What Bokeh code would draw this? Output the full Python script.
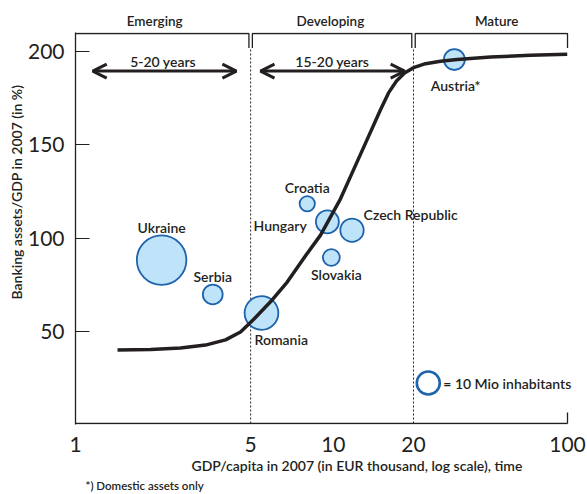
import math
from bokeh.plotting import figure
from bokeh.models import (Range1d, FixedTicker, Label, Arrow, OpenHead, ColumnDataSource,
                          LinearAxis, Title)
from bokeh.core.properties import value
from bokeh.embed import file_html
from bokeh.resources import INLINE

# ---------------- data ----------------
# x axis: schematic GDP/capita position (0..100), labelled with GDP values
x_tick_pos = [0, 35.6, 52.4, 68.7, 100]
x_tick_labels = ["1", "5", "10", "20", "100"]
y_ticks = [50, 100, 150, 200]

stage_names = ["Emerging", "Developing", "Mature"]
stage_bounds = [0, 35.6, 68.7, 100]          # positions of 1, 5, 20, 100
stage_label_x = [16.1, 51.8, 85.6]

span_texts = ["5-20 years", "15-20 years"]
span_start = [3.5, 37.6]
span_end = [32.7, 66.9]
span_text_x = [17.8, 52.2]

countries = ["Ukraine", "Serbia", "Romania", "Croatia", "Hungary",
             "Czech Republic", "Slovakia", "Austria*"]
gdp_pos = [17.5, 27.9, 37.8, 47.1, 51.2, 56.2, 52.0, 77.0]
bank_assets = [88.2, 69.8, 59.9, 118.4, 108.7, 104.2, 89.6, 195.6]
population = [46.4, 7.4, 21.5, 4.4, 10.0, 10.3, 5.4, 8.3]   # Mio inhabitants

curve_x = [8.54, 15.24, 21.34, 26.42, 30.49, 33.54, 36.18, 39.63, 43.03, 46.40, 49.80,
           53.86, 56.57, 59.29, 61.99, 63.62, 65.24, 66.87, 68.70, 71.14, 74.19, 77.58,
           84.35, 92.48, 99.94]
curve_y = [40.09, 40.36, 41.10, 42.69, 45.50, 49.74, 56.36, 65.90, 76.47, 89.23, 101.58,
           121.03, 136.93, 152.83, 168.73, 177.74, 184.10, 188.34, 191.25, 193.37, 194.70,
           195.65, 196.98, 197.88, 198.41]

legend_pop = 10
legend_pos = (71.7, 22.4)

# ---------------- style ----------------
FONT = "Lato"
FONT_M = "Lato Semibold"
INK = "#231f20"
FILL = "#bfe3f8"
EDGE = "#1e64ac"
REF_SIZE = 23  # px diameter for 10 Mio

label_dx = [0, 0, -7, 0, -20.7, 11.6, 5, 1.3]
label_dy = [-33, -18, 26.5, -16, 3.4, -16, 17.4, 25.7]
label_align = ["center", "center", "left", "center", "right", "left", "center", "center"]

FRAME_H = 396
p = figure(width=587, height=494, output_backend="svg", toolbar_location=None,
           x_range=Range1d(0, 102.64), y_range=Range1d(0.18, 210.07),
           min_border_left=75, min_border_right=7, min_border_top=32, min_border_bottom=66)
p.outline_line_color = None
p.xgrid.visible = False
p.ygrid.visible = False
p.background_fill_color = "white"

y_top = p.y_range.end
y_bot = p.y_range.start
px_per_y = FRAME_H / (y_top - y_bot)
base_y = y_bot + 1.0 / px_per_y
bracket_top = y_top - 1.0 / px_per_y
bracket_drop = bracket_top - 14.7 / px_per_y
gap = 0.35

# axes
xa = p.xaxis[0]
xa.ticker = FixedTicker(ticks=x_tick_pos)
xa.major_label_overrides = {t: l for t, l in zip(x_tick_pos, x_tick_labels)}
xa.major_tick_line_color = None
xa.minor_tick_line_color = None
xa.axis_line_color = None
xa.major_label_text_font = FONT
xa.major_label_text_font_size = "21px"
xa.major_label_text_color = INK
xa.major_label_standoff = 6

ya = p.yaxis[0]
ya.ticker = FixedTicker(ticks=y_ticks)
ya.major_tick_in = 14
ya.major_tick_out = 0
ya.major_tick_line_color = INK
ya.major_tick_line_width = 1.2
ya.minor_tick_line_color = None
ya.axis_line_color = INK
ya.axis_line_width = 1.3
ya.major_label_text_font = FONT
ya.major_label_text_font_size = "21px"
ya.major_label_text_color = INK
ya.major_label_standoff = 11

# stage names as an axis above the frame
top_axis = LinearAxis(ticker=FixedTicker(ticks=stage_label_x),
                      major_label_overrides={x: n for x, n in zip(stage_label_x, stage_names)},
                      axis_line_color=None, major_tick_line_color=None, minor_tick_line_color=None,
                      major_tick_in=0, major_tick_out=0,
                      major_label_text_font=FONT_M, major_label_text_font_size="13.5px",
                      major_label_text_color=INK, major_label_standoff=4)
p.add_layout(top_axis, "above")

# axis titles and footnote
p.add_layout(Title(text="Banking assets/GDP in 2007 (in %)", align="left", offset=125,
                   text_font=FONT_M, text_font_size="14px", text_font_style="normal",
                   text_color=INK, standoff=0), "left")
p.add_layout(Title(text="GDP/capita in 2007 (in EUR thousand, log scale), time", align="left",
                   offset=116, text_font=FONT_M, text_font_size="14px", text_font_style="normal",
                   text_color=INK, standoff=0), "below")
p.add_layout(Title(text="*) Domestic assets only", align="left", offset=10,
                   text_font=FONT_M, text_font_size="11.5px", text_font_style="normal",
                   text_color=INK, standoff=6), "below")

# x baseline and its end tick
p.segment(x0=[x_tick_pos[0]], y0=[base_y], x1=[x_tick_pos[-1]], y1=[base_y],
          line_color=INK, line_width=1.3)
p.segment(x0=[x_tick_pos[-1]], y0=[base_y], x1=[x_tick_pos[-1]],
          y1=[base_y + 11 / px_per_y], line_color=INK, line_width=1.3)

# stage dividers (dotted)
p.segment(x0=stage_bounds[1:3], y0=[base_y] * 2, x1=stage_bounds[1:3], y1=[bracket_drop] * 2,
          line_color=INK, line_width=1, line_dash="2 2")

# stage brackets
bx, by = [], []
for i in range(3):
    a = stage_bounds[i] + (gap if i > 0 else 0)
    b = stage_bounds[i + 1] - (gap if i < 2 else 0)
    xs = [a, b, b] if i == 0 else [a, a, b, b]
    ys = [bracket_top, bracket_top, bracket_drop] if i == 0 else [bracket_drop, bracket_top, bracket_top, bracket_drop]
    bx.append(xs)
    by.append(ys)
p.multi_line(bx, by, line_color=INK, line_width=1.3)

# duration arrows
for t, s, e, tx in zip(span_texts, span_start, span_end, span_text_x):
    p.add_layout(Arrow(x_start=s, y_start=189.4, x_end=e, y_end=189.4, line_width=3, line_color=INK,
                       start=OpenHead(size=14, line_width=3, line_color=INK),
                       end=OpenHead(size=14, line_width=3, line_color=INK)))
    p.add_layout(Label(x=tx, y=194.6, text=t, text_font=FONT_M, text_font_size="14px",
                       text_color=INK, text_align="center", text_baseline="middle"))

# bubbles
sizes = [REF_SIZE * math.sqrt(pp / legend_pop) for pp in population]
src = ColumnDataSource(dict(x=gdp_pos, y=bank_assets, size=sizes, name=countries,
                            dx=label_dx, dy=label_dy, align=label_align))
p.scatter("x", "y", size="size", source=src, fill_color=FILL, line_color=EDGE, line_width=1.8)

# S-curve
p.line(curve_x, curve_y, line_color=INK, line_width=3.5, line_join="round")

p.text("x", "y", text="name", source=src, x_offset="dx", y_offset="dy", text_align="align",
       text_baseline="middle", text_font=value(FONT_M), text_font_size="14px", text_color=INK)

# size legend
p.scatter([legend_pos[0]], [legend_pos[1]], size=REF_SIZE, fill_color="white",
          line_color=EDGE, line_width=2.6)
p.add_layout(Label(x=legend_pos[0], y=legend_pos[1], x_offset=15, text="= 10 Mio inhabitants",
                   text_font=FONT_M, text_font_size="14px", text_color=INK,
                   text_align="left", text_baseline="middle"))

open("out.html", "w").write(file_html(p, INLINE))
